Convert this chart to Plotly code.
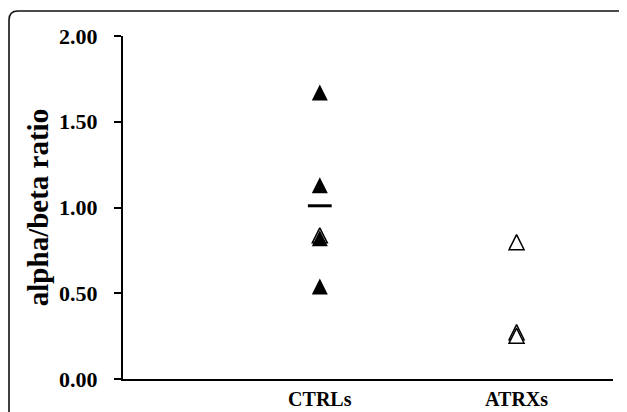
import plotly.graph_objects as go

# ---- data ----
categories = ["CTRLs", "ATRXs"]
cat_pos = [1, 2]
ctrl_filled = [1.67, 1.13, 0.82, 0.54]
ctrl_open = [0.835]
atrx_open = [0.795, 0.27, 0.25]
ctrl_mean = [1.01]
y_ticks = [0.0, 0.5, 1.0, 1.5, 2.0]
y_tick_labels = ["0.00", "0.50", "1.00", "1.50", "2.00"]

# ---- geometry (screen pixels; page body has an 8px margin) ----
SW, SH = 627, 412
BODY = 8
W, H = SW - BODY, SH - BODY
PLOT_L, PLOT_R, PLOT_T, PLOT_B = 123, 613, 36, 379   # screen coords
ML, MT = PLOT_L - BODY, PLOT_T - BODY
MR, MB = SW - PLOT_R, SH - PLOT_B
PW, PH = PLOT_R - PLOT_L, PLOT_B - PLOT_T
Y_RANGE = [0, 2]
X_RANGE = [0, 2.49]
px_per_unit = PH / (Y_RANGE[1] - Y_RANGE[0])
# arrow-up markers are anchored at their apex; shift a twin axis so the
# marker's centre sits on the value
MARK = 16
off = (MARK / 2) / px_per_unit

FONT = "Liberation Serif"

fig = go.Figure()

fig.add_trace(go.Scatter(
    x=[cat_pos[0]] * len(ctrl_open), y=ctrl_open, mode="markers",
    yaxis="y2",
    marker=dict(symbol="arrow-up", size=MARK - 1, color="white",
                line=dict(color="black", width=1.5)),
    showlegend=False, hoverinfo="skip"))
fig.add_trace(go.Scatter(
    x=[cat_pos[0]] * len(ctrl_filled), y=ctrl_filled, mode="markers",
    yaxis="y2",
    marker=dict(symbol="arrow-up", size=MARK, color="black",
                line=dict(width=0)),
    showlegend=False, hoverinfo="skip"))
fig.add_trace(go.Scatter(
    x=[cat_pos[1]] * len(atrx_open), y=atrx_open, mode="markers",
    yaxis="y2",
    marker=dict(symbol="arrow-up", size=MARK - 1, color="white",
                line=dict(color="black", width=1.5)),
    showlegend=False, hoverinfo="skip"))
fig.add_trace(go.Scatter(
    x=[cat_pos[0]] * len(ctrl_mean), y=ctrl_mean, mode="markers",
    marker=dict(symbol="line-ew", size=17,
                line=dict(color="black", width=3)),
    showlegend=False, hoverinfo="skip"))


def X(px):
    return (px - PLOT_L) / PW


def Y(py):
    return (PLOT_B - py) / PH


frame = (f"M {X(9)},{Y(430)} L {X(9)},{Y(20)} "
         f"Q {X(9)},{Y(11)} {X(18)},{Y(11)} "
         f"L {X(620)},{Y(11)} Q {X(629)},{Y(11)} {X(629)},{Y(20)} "
         f"L {X(629)},{Y(430)}")

fig.update_layout(
    template=None,
    width=W, height=H, autosize=False,
    margin=dict(l=ML, r=MR, t=MT, b=MB, pad=0, autoexpand=False),
    paper_bgcolor="white", plot_bgcolor="white",
    font=dict(family=FONT, color="black"),
    xaxis=dict(range=X_RANGE, tickvals=cat_pos, ticktext=categories,
               showline=True, linewidth=2, linecolor="black",
               ticks="", showgrid=False, zeroline=False, automargin=False,
               tickfont=dict(family=FONT, size=20, color="black", weight="bold"),
               ticklabelstandoff=1, fixedrange=True),
    yaxis=dict(range=Y_RANGE, tickvals=y_ticks, ticktext=y_tick_labels,
               showline=True, linewidth=2, linecolor="black",
               ticks="outside", ticklen=7, tickwidth=2, tickcolor="black",
               showgrid=False, zeroline=False, automargin=False,
               tickfont=dict(family=FONT, size=22, color="black", weight="bold"),
               ticklabelstandoff=12, fixedrange=True,
               title=dict(text="alpha/beta ratio", standoff=2,
                          font=dict(family=FONT, size=29, color="black",
                                    weight="bold"))),
    yaxis2=dict(range=[Y_RANGE[0] - off, Y_RANGE[1] - off], overlaying="y",
                visible=False, fixedrange=True),
    shapes=[dict(type="path", path=frame, xref="paper", yref="paper",
                 line=dict(color="#111111", width=1.6), layer="above")],
)

fig.write_html("out.html")
